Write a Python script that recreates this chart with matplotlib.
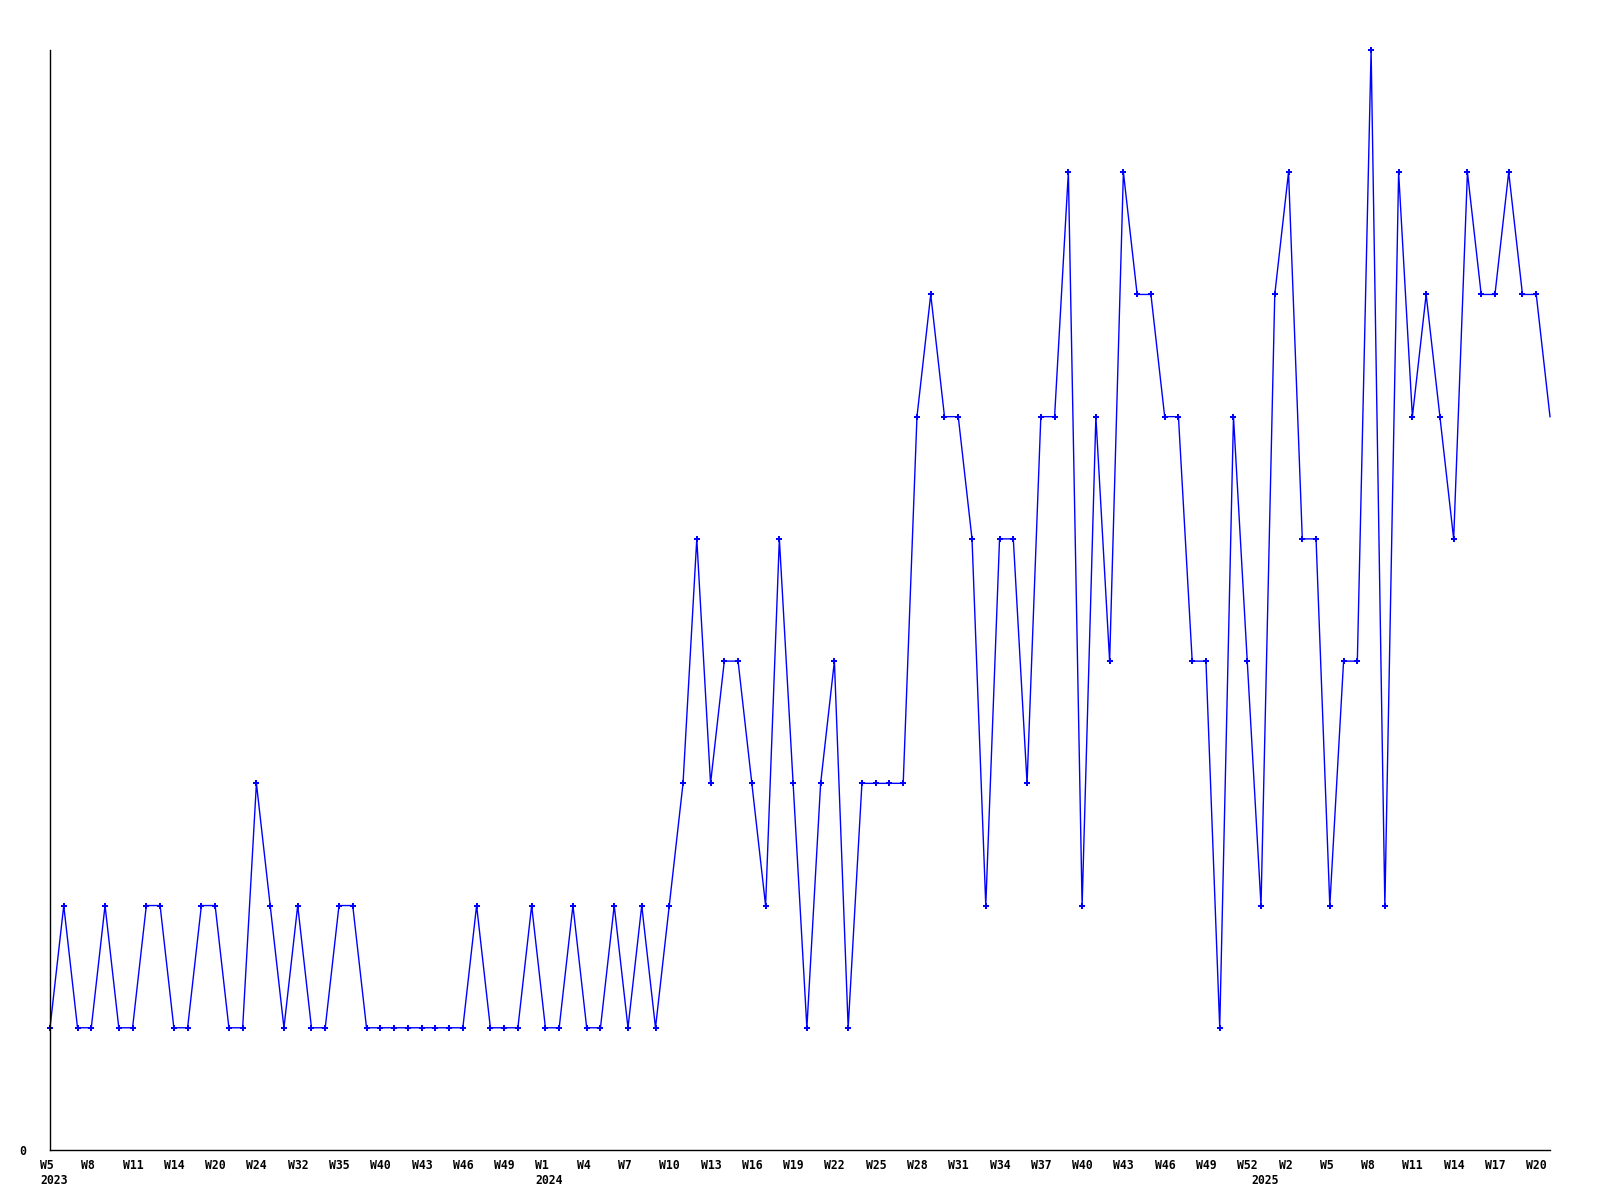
import matplotlib
matplotlib.use('Agg')
import matplotlib.pyplot as plt
from matplotlib.transforms import ScaledTranslation

# weekly counts, one per point
counts = [1, 2, 1, 1, 2, 1, 1, 2, 2, 1, 1, 2, 2, 1, 1, 3, 2, 1, 2, 1,
          1, 2, 2, 1, 1, 1, 1, 1, 1, 1, 1, 2, 1, 1, 1, 2, 1, 1, 2, 1,
          1, 2, 1, 2, 1, 2, 3, 5, 3, 4, 4, 3, 2, 5, 3, 1, 3, 4, 1, 3,
          3, 3, 3, 6, 7, 6, 6, 5, 2, 5, 5, 3, 6, 6, 8, 2, 6, 4, 8, 7,
          7, 6, 6, 4, 4, 1, 6, 4, 2, 7, 8, 5, 5, 2, 4, 4, 9, 2, 8, 6,
          7, 6, 5, 8, 7, 7, 8, 7, 7, 6]

# week labels, shown on every third point
week_labels = ['W5', 'W8', 'W11', 'W14', 'W20', 'W24', 'W32', 'W35', 'W40', 'W43', 'W46', 'W49',
               'W1', 'W4', 'W7', 'W10', 'W13', 'W16', 'W19', 'W22', 'W25', 'W28', 'W31', 'W34',
               'W37', 'W40', 'W43', 'W46', 'W49', 'W52',
               'W2', 'W5', 'W8', 'W11', 'W14', 'W17', 'W20']
label_step = 3

# year markers: (point index, label)
year_pos = [0, 36, 88]
year_labels = ['2023', '2024', '2025']

font = {'family': 'DejaVu Sans Mono', 'weight': 'bold', 'size': 8.3}

fig = plt.figure(figsize=(16, 12), dpi=100)
ax = fig.add_axes([50/1600, 50/1200, 1500/1600, 1100/1200])

x = list(range(len(counts)))
ax.plot(x, counts, color='#0000ff', lw=1, marker='P', ms=5, mew=0,
        markevery=list(range(len(counts)-1)), clip_on=False)

ax.set_xlim(0, len(counts)-1)
ax.set_ylim(0, max(counts))

for s in ['top', 'right']:
    ax.spines[s].set_visible(False)
for s in ['left', 'bottom']:
    ax.spines[s].set_linewidth(1.0)
    ax.spines[s].set_color('black')

ax.set_yticks([0])
ax.set_yticklabels(['0'], fontdict=font)
ax.tick_params(axis='y', length=0, pad=17)

ticks = list(range(0, label_step*len(week_labels), label_step))
ax.set_xticks(ticks)
ax.set_xticklabels(week_labels, fontdict=font)
ax.tick_params(axis='x', length=0, pad=6.5)
shift = ScaledTranslation(-10/100, 0, fig.dpi_scale_trans)
for lab in ax.get_xticklabels():
    lab.set_ha('left')
    lab.set_transform(lab.get_transform() + shift)

for pos, yr in zip(year_pos, year_labels):
    ax.annotate(yr, xy=(pos, 0), xycoords=('data', 'axes fraction'),
                xytext=(-10, -24), textcoords='offset pixels',
                ha='left', va='top', **font)

fig.savefig('out.png', dpi=100)
